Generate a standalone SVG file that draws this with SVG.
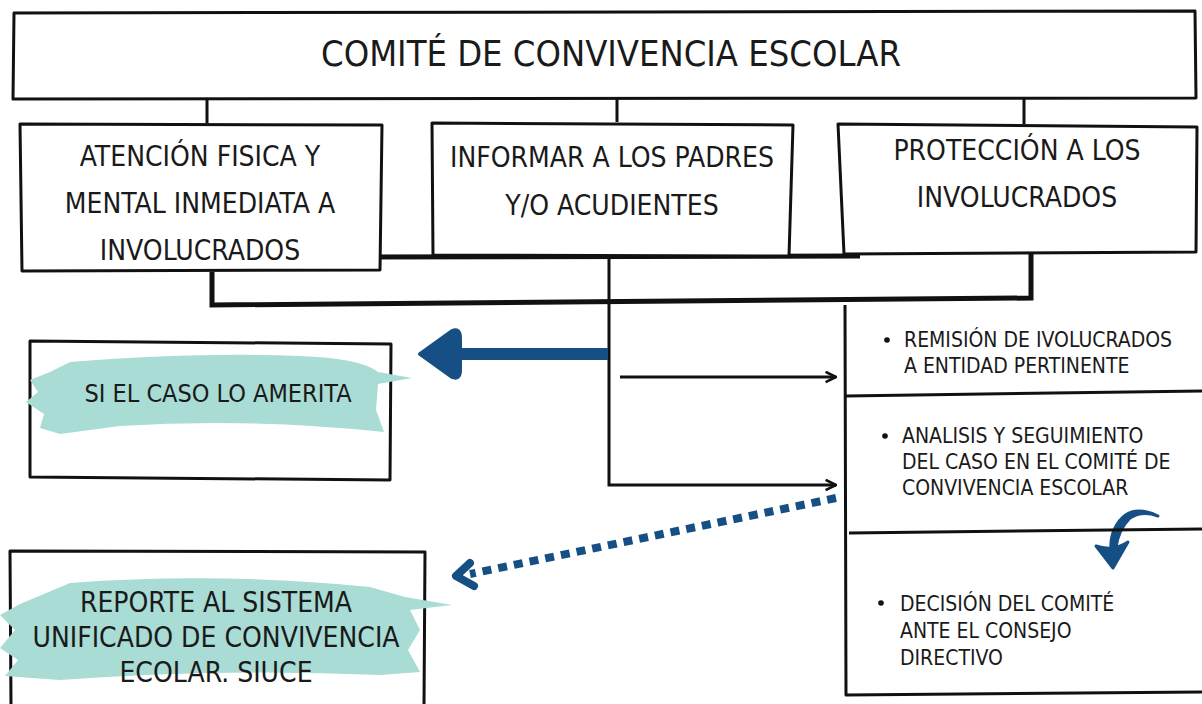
<svg xmlns="http://www.w3.org/2000/svg" width="1202" height="704" viewBox="0 0 1202 704">
<defs>
<style>
.box{fill:#fff;stroke:#111;stroke-width:3;stroke-linejoin:round}
.ln{fill:none;stroke:#111;stroke-width:3}
.thick{fill:none;stroke:#111;stroke-width:5}
.t{font-family:"Liberation Sans Narrow","DejaVu Sans Condensed","Liberation Sans",sans-serif;fill:#1a1a1a;text-anchor:middle}
.s{font-family:"Liberation Sans Narrow","DejaVu Sans Condensed","Liberation Sans",sans-serif;fill:#1a1a1a;font-size:21px}
.brush{fill:#a8dcd5}
.blue{fill:none;stroke:#154f84}
</style>
<marker id="ah" viewBox="0 0 10 10" refX="9" refY="5" markerWidth="13" markerHeight="13" markerUnits="userSpaceOnUse" orient="auto">
<path d="M1,1 L9,5 L1,9" fill="none" stroke="#111" stroke-width="2"/>
</marker>
</defs>
<rect width="1202" height="704" fill="#fff"/>

<g id="connectors">
<path class="ln" d="M207,99 V123 M617,99 V122 M1024,99 V124"/>
<path class="thick" d="M362,257 L860,256"/>
<path class="thick" d="M212,272 V305 L1031,298 V252"/>
<path class="ln" d="M609,256 V485 L836,485" marker-end="url(#ah)"/>
<path class="ln" d="M620,377 L836,377" marker-end="url(#ah)"/>
<path class="blue" stroke-width="12" d="M608,354 L455,354"/>
<path d="M420,354 L452,331 Q460,328 460,338 L460,370 Q460,380 452,377 Z" fill="#154f84" stroke="#154f84" stroke-width="4" stroke-linejoin="round"/>
<path class="blue" stroke-width="8" stroke-dasharray="9,7" d="M836,498 L470,574"/>
<path class="blue" stroke-width="8" stroke-linecap="round" stroke-linejoin="round" d="M470,563 L456,576 L474,586"/>
<path d="M1158,516 Q1128,502 1115,528 Q1110,538 1111,550 L1116,548 Q1118,530 1130,518 Q1142,510 1158,516 Z" fill="#154f84" stroke="#154f84" stroke-width="3" stroke-linejoin="round"/>
<path d="M1096,546 L1113,568 L1128,542 Q1113,552 1096,546 Z" fill="#154f84" stroke="#154f84" stroke-width="3" stroke-linejoin="round"/>
</g>

<g id="n-comite">
<path class="box" d="M14,13 L1195,11 L1196,98 L13,99 Z"/>
<text class="t" x="611" y="66" font-size="36">COMITÉ DE CONVIVENCIA ESCOLAR</text>
</g>

<g id="n-atencion">
<path class="box" d="M20,124 L382,125 L380,270 L22,271 Z"/>
<text class="t" x="200" y="166" font-size="28">ATENCIÓN FISICA Y</text>
<text class="t" x="200" y="213" font-size="28">MENTAL INMEDIATA A</text>
<text class="t" x="200" y="260" font-size="28">INVOLUCRADOS</text>
</g>

<g id="n-informar">
<path class="box" d="M432,123 L793,125 L789,256 L433,255 Z"/>
<text class="t" x="612" y="167" font-size="28">INFORMAR A LOS PADRES</text>
<text class="t" x="612" y="215" font-size="28">Y/O ACUDIENTES</text>
</g>

<g id="n-proteccion">
<path class="box" d="M838,124 L1197,127 L1196,252 L844,254 Z"/>
<text class="t" x="1017" y="160" font-size="28">PROTECCIÓN A LOS</text>
<text class="t" x="1017" y="207" font-size="28">INVOLUCRADOS</text>
</g>

<g id="n-siamerita">
<path class="box" d="M30,341 L391,344 L390,480 L30,477 Z"/>
<path class="brush" d="M70,362 Q200,352 300,356 Q360,358 378,372 L412,378 L378,384 L376,410 L384,432 Q250,418 120,426 L60,434 L40,428 L44,414 L26,402 L38,392 L30,380 L50,372 Z"/>
<text class="t" x="218" y="402" font-size="25">SI EL CASO LO AMERITA</text>
</g>

<g id="n-reporte">
<path class="box" d="M10,551 L425,552 L424,706 L11,706 Z"/>
<path class="brush" d="M70,583 Q220,572 370,587 L405,597 L452,605 L410,610 L420,630 L408,650 L420,672 L380,675 Q220,668 60,680 L5,676 L18,660 L0,648 L15,630 L0,615 L20,604 Z"/>
<text class="t" x="216" y="612" font-size="28">REPORTE AL SISTEMA</text>
<text class="t" x="216" y="647" font-size="28">UNIFICADO DE CONVIVENCIA</text>
<text class="t" x="216" y="682" font-size="28">ECOLAR. SIUCE</text>
</g>

<g id="n-acciones">
<path class="box" d="M845,305 L846,695 L1202,692"/>
<path class="ln" d="M846,396 L1202,391 M849,533 L1202,529"/>
<g id="n-remision">
<circle cx="887" cy="340" r="2.8" fill="#111"/>
<text class="s" x="904" y="347">REMISIÓN DE IVOLUCRADOS</text>
<text class="s" x="904" y="373">A ENTIDAD PERTINENTE</text>
</g>
<g id="n-analisis">
<circle cx="885" cy="436" r="2.8" fill="#111"/>
<text class="s" x="902" y="443">ANALISIS Y SEGUIMIENTO</text>
<text class="s" x="902" y="469">DEL CASO EN EL COMITÉ DE</text>
<text class="s" x="902" y="495">CONVIVENCIA ESCOLAR</text>
</g>
<g id="n-decision">
<circle cx="881" cy="603" r="2.8" fill="#111"/>
<text class="s" x="900" y="611">DECISIÓN DEL COMITÉ</text>
<text class="s" x="900" y="638">ANTE EL CONSEJO</text>
<text class="s" x="900" y="665">DIRECTIVO</text>
</g>
</g>
</svg>
